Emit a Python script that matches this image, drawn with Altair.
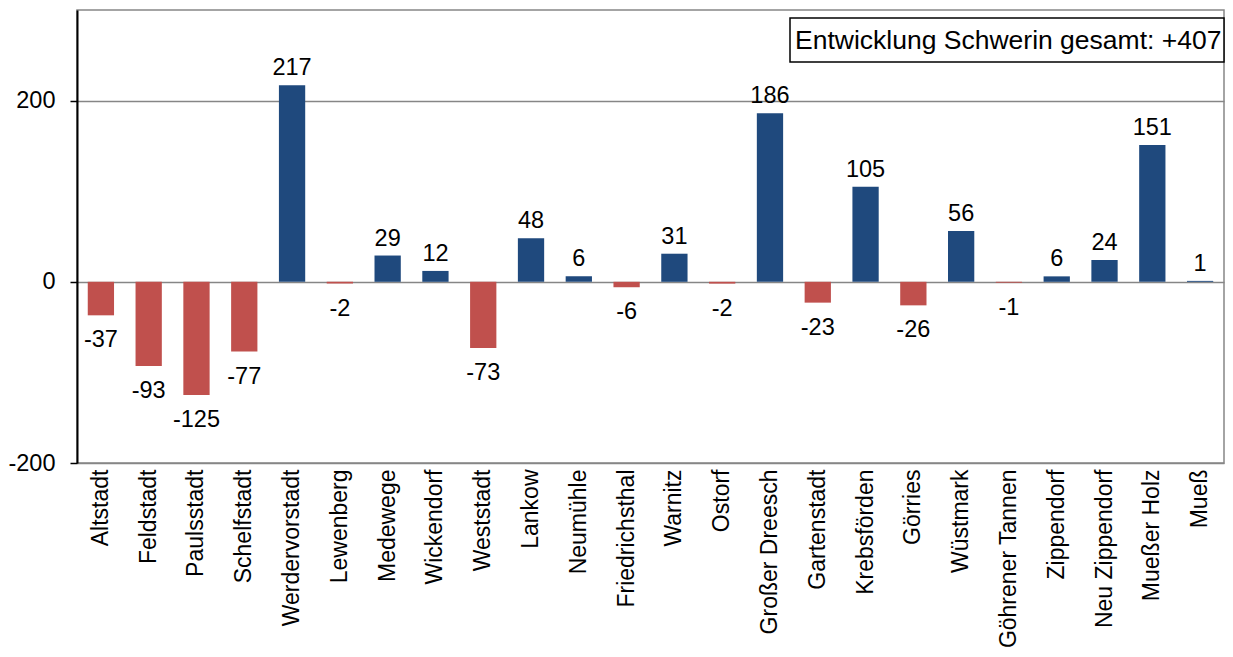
import altair as alt
import pandas as pd

districts = ["Altstadt", "Feldstadt", "Paulsstadt", "Schelfstadt", "Werdervorstadt",
             "Lewenberg", "Medewege", "Wickendorf", "Weststadt", "Lankow", "Neumühle",
             "Friedrichsthal", "Warnitz", "Ostorf", "Großer Dreesch", "Gartenstadt",
             "Krebsförden", "Görries", "Wüstmark", "Göhrener Tannen", "Zippendorf",
             "Neu Zippendorf", "Mueßer Holz", "Mueß"]
values = [-37, -93, -125, -77, 217, -2, 29, 12, -73, 48, 6, -6, 31, -2, 186, -23,
          105, -26, 56, -1, 6, 24, 151, 1]
annotation = ["Entwicklung Schwerin gesamt: +407"]
y_ticks = [-200, 0, 200]

BLUE = "#1F497D"
RED = "#C0504D"
FONT = "Liberation Sans"

df = pd.DataFrame({"district": districts, "value": values})

x = alt.X("district:N", sort=districts,
          scale=alt.Scale(paddingInner=0.45, paddingOuter=0.225),
          axis=alt.Axis(title=None, labelAngle=-90, ticks=False, domain=False,
                        labelFontSize=23, labelFont=FONT, labelColor="black",
                        labelPadding=6, labelLimit=400))
y = alt.Y("value:Q", scale=alt.Scale(domain=[-200, 300], nice=False, zero=True),
          axis=alt.Axis(title=None, values=y_ticks, grid=True, gridColor="#868686",
                        gridWidth=1.5, domainColor="black", domainWidth=2,
                        tickColor="black", tickSize=7, tickWidth=1.5,
                        labelFontSize=23.5, labelFont=FONT, labelColor="black",
                        labelPadding=15, labelExpr="datum.value + ''"))

base = alt.Chart(df).transform_calculate(label="datum.value + ''")

bars = base.mark_bar().encode(
    x=x, y=y,
    color=alt.condition(alt.datum.value > 0, alt.value(BLUE), alt.value(RED)),
)

pos_labels = base.transform_filter(alt.datum.value > 0).mark_text(
    baseline="bottom", dy=-5, fontSize=23.5, font=FONT, color="black"
).encode(x=x, y=y, text="label:N")

neg_labels = base.transform_filter(alt.datum.value <= 0).mark_text(
    baseline="top", dy=13, fontSize=23.5, font=FONT, color="black"
).encode(x=x, y=y, text="label:N")

ann_df = pd.DataFrame({"t": annotation})
ann_box = alt.Chart(ann_df).mark_rect(fill="white", stroke="black", strokeWidth=1.5).encode(
    x=alt.value(713), x2=alt.value(1147), y=alt.value(8), y2=alt.value(52)
)
ann_text = alt.Chart(ann_df).mark_text(
    align="left", baseline="middle", fontSize=26.5, font=FONT, color="black"
).encode(x=alt.value(718), y=alt.value(31), text="t:N")

chart = alt.layer(bars, pos_labels, neg_labels, ann_box, ann_text).properties(
    width=1147, height=453,
    autosize=alt.AutoSizeParams(type="none"),
    padding={"left": 69, "top": 2, "right": 1, "bottom": 186},
).configure_view(stroke="#868686", strokeWidth=1.5)

chart.save("out.html", embed_options={"renderer": "svg", "actions": False})
